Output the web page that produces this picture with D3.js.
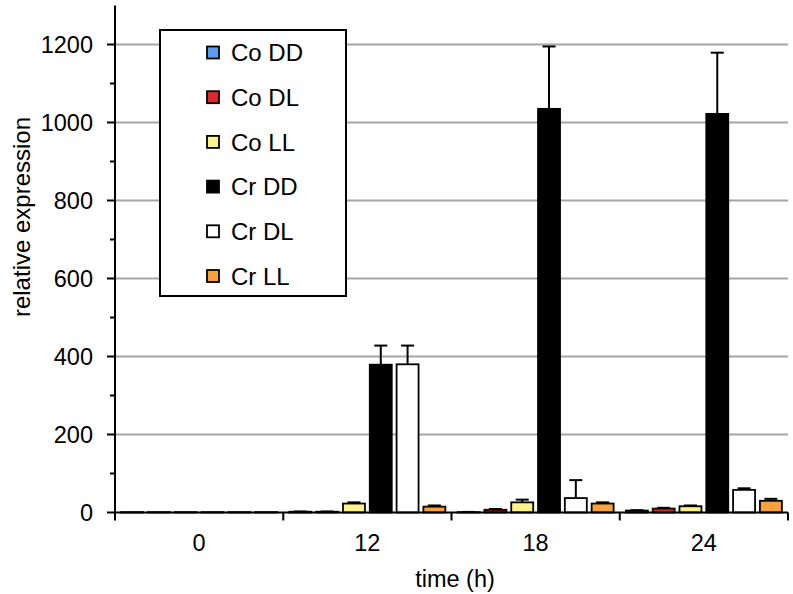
<!DOCTYPE html>
<html>
<head>
<meta charset="utf-8">
<script src="https://cdn.jsdelivr.net/npm/d3@7"></script>
<style>
  html, body { margin: 0; padding: 0; background: #fff; }
  svg { display: block; font-family: "Liberation Sans", Arial, sans-serif; }
</style>
</head>
<body>
<svg id="chart" width="793" height="594"></svg>
<script>
// ---- data ----
const timepoints = ["0", "12", "18", "24"];
const seriesNames = ["Co DD", "Co DL", "Co LL", "Cr DD", "Cr DL", "Cr LL"];
const seriesColors = ["#5a9cf0", "#e0262b", "#fdf38d", "#000000", "#ffffff", "#f9a13e"];
const coDD = [1, 2, 1, 5];
const coDL = [1, 2, 7, 10];
const coLL = [1, 23, 26, 16];
const crDD = [1, 379, 1035, 1022];
const crDL = [1, 380, 37, 58];
const crLL = [1, 15, 23, 30];
const coDDerr = [0, 0.5, 0.5, 1];
const coDLerr = [0, 0.5, 2, 2];
const coLLerr = [0, 3, 7, 2];
const crDDerr = [0, 49, 160, 157];
const crDLerr = [0, 48, 46, 4];
const crLLerr = [0, 3, 3, 5];
const yTicks = [0, 200, 400, 600, 800, 1000, 1200];
const yMinorTicks = [100, 300, 500, 700, 900, 1100];

const values = [coDD, coDL, coLL, crDD, crDL, crLL];
const errors = [coDDerr, coDLerr, coLLerr, crDDerr, crDLerr, crLLerr];

const svg = d3.select("#chart");
const x0 = 115, x1 = 788, yBase = 512.5, yTop = 5.5;

const x = d3.scaleBand().domain(timepoints).range([x0, x1]).paddingInner(0).paddingOuter(0);
const xs = d3.scaleBand().domain(seriesNames).range([0, x.bandwidth()]).paddingInner(0.18).paddingOuter(0.229);
const y = d3.scaleLinear().domain([0, 1300]).range([yBase, yTop]);

// gridlines
svg.append("g").selectAll("line").data(yTicks.filter(d => d > 0)).join("line")
  .attr("x1", x0).attr("x2", x1)
  .attr("y1", d => y(d)).attr("y2", d => y(d))
  .attr("stroke", "#a6a6a6").attr("stroke-width", 2);

// bars
const rows = [];
timepoints.forEach((t, ti) => {
  seriesNames.forEach((s, si) => {
    rows.push({t, s, si, v: values[si][ti], e: errors[si][ti]});
  });
});

const gBars = svg.append("g");
// error bars (drawn first, upward only)
rows.filter(d => d.e > 0).forEach(d => {
  const cx = x(d.t) + xs(d.s) + xs.bandwidth() / 2;
  gBars.append("line")
    .attr("x1", cx).attr("x2", cx)
    .attr("y1", y(d.v)).attr("y2", y(d.v + d.e))
    .attr("stroke", "#000").attr("stroke-width", 2);
  gBars.append("line")
    .attr("x1", cx - 6.5).attr("x2", cx + 6.5)
    .attr("y1", y(d.v + d.e)).attr("y2", y(d.v + d.e))
    .attr("stroke", "#000").attr("stroke-width", 2);
});
gBars.selectAll("rect").data(rows).join("rect")
  .attr("x", d => x(d.t) + xs(d.s))
  .attr("width", xs.bandwidth())
  .attr("y", d => y(d.v))
  .attr("height", d => yBase - y(d.v))
  .attr("fill", d => seriesColors[d.si])
  .attr("stroke", "#000").attr("stroke-width", 1.8);

// y axis
const yAxis = svg.append("g");
yAxis.append("line").attr("x1", x0).attr("x2", x0).attr("y1", yTop).attr("y2", yBase)
  .attr("stroke", "#000").attr("stroke-width", 2);
yAxis.selectAll("line.maj").data(yTicks).join("line").attr("class", "maj")
  .attr("x1", x0 - 8).attr("x2", x0).attr("y1", d => y(d)).attr("y2", d => y(d))
  .attr("stroke", "#000").attr("stroke-width", 2);
yAxis.selectAll("line.min").data(yMinorTicks).join("line").attr("class", "min")
  .attr("x1", x0 - 5).attr("x2", x0).attr("y1", d => y(d)).attr("y2", d => y(d))
  .attr("stroke", "#000").attr("stroke-width", 2);
yAxis.selectAll("text").data(yTicks).join("text")
  .attr("x", 93).attr("y", d => y(d)).attr("dy", "0.36em")
  .attr("text-anchor", "end").attr("font-size", 23.5).attr("fill", "#000")
  .text(d => d);

// x axis
const xAxis = svg.append("g");
xAxis.append("line").attr("x1", x0).attr("x2", x1).attr("y1", yBase).attr("y2", yBase)
  .attr("stroke", "#000").attr("stroke-width", 2);
const xTickPos = timepoints.map(t => x(t)).concat([x1]);
xAxis.selectAll("line.t").data(xTickPos).join("line").attr("class", "t")
  .attr("x1", d => d).attr("x2", d => d).attr("y1", yBase).attr("y2", yBase + 8)
  .attr("stroke", "#000").attr("stroke-width", 2);
xAxis.selectAll("text").data(timepoints).join("text")
  .attr("x", d => x(d) + x.bandwidth() / 2).attr("y", 551)
  .attr("text-anchor", "middle").attr("font-size", 23.5).attr("fill", "#000")
  .text(d => d);

// titles
svg.append("text").attr("x", 455).attr("y", 587).attr("text-anchor", "middle")
  .attr("font-size", 23.5).text("time (h)");
svg.append("text").attr("transform", "translate(30,217) rotate(-90)")
  .attr("text-anchor", "middle").attr("font-size", 24).text("relative expression");

// legend
const lg = svg.append("g");
lg.append("rect").attr("x", 160).attr("y", 30).attr("width", 186).attr("height", 266)
  .attr("fill", "#fff").attr("stroke", "#000").attr("stroke-width", 2);
const items = lg.selectAll("g.item").data(seriesNames).join("g").attr("class", "item")
  .attr("transform", (d, i) => `translate(0,${52.5 + i * 44.7})`);
items.append("rect").attr("x", 207).attr("y", -6).attr("width", 12).attr("height", 12)
  .attr("fill", (d, i) => seriesColors[i]).attr("stroke", "#000").attr("stroke-width", 1.8);
items.append("text").attr("x", 231).attr("y", 0).attr("dy", "0.36em")
  .attr("font-size", 24).text(d => d);
</script>
</body>
</html>
